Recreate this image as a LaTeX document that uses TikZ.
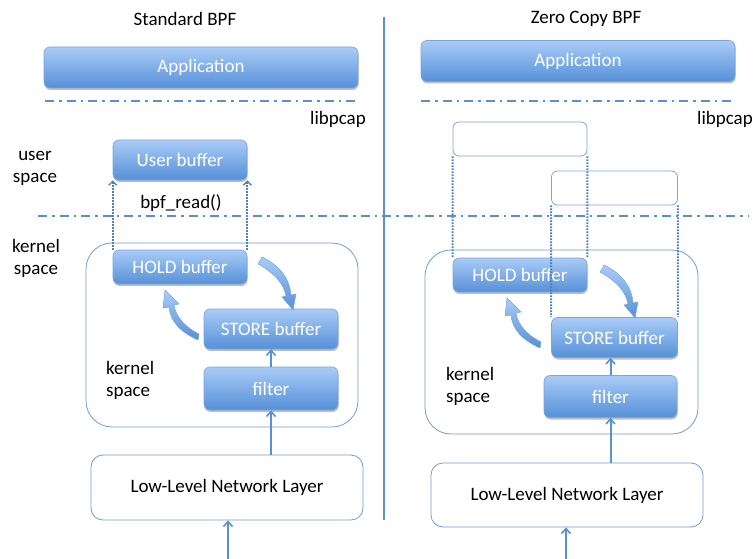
\documentclass[tikz,border=0pt]{standalone}
\usepackage{fontspec}
\setmainfont{Carlito}
\usetikzlibrary{arrows.meta,shadows}

\definecolor{bxtop}{HTML}{A9CCF7}
\definecolor{bxbot}{HTML}{5690D8}
\definecolor{bxline}{HTML}{7AA6DC}
\definecolor{ln}{HTML}{5B8FCF}
\definecolor{frame}{HTML}{6E9DD3}

\tikzset{
  txt/.style={font=\fontsize{19}{22}\selectfont, text=black, inner sep=0pt},
  blk/.style={rectangle, rounded corners=6pt, draw=bxline, line width=0.6pt,
    top color=bxtop, bottom color=bxbot, text=white,
    font=\fontsize{19}{22}\selectfont,
    drop shadow={shadow xshift=0.6pt, shadow yshift=-2pt, opacity=0.25, fill=black}},
  emptybox/.style={rectangle, rounded corners=6pt, draw=bxline, line width=0.8pt, fill=white},
  kbox/.style={rectangle, rounded corners=26pt, draw=frame, line width=0.8pt},
  netbox/.style={rectangle, rounded corners=12pt, draw=frame, line width=0.8pt, fill=white,
    font=\fontsize{19}{22}\selectfont},
  dashdot/.style={draw=ln, line width=2.5pt, dash pattern=on 9pt off 5pt on 2.5pt off 5pt},
  dots/.style={draw=ln!90!black, line width=2pt, dash pattern=on 1.6pt off 1.4pt},
  arr/.style={draw=ln, line width=2pt, -{Straight Barb[length=5pt,width=9pt,line width=1.6pt]}},
  dotarr/.style={dots, -{Straight Barb[length=4pt,width=8pt,line width=1.4pt]}},
  curv/.style={top color=bxtop, bottom color=bxbot, draw=bxline, line width=0.5pt},
}

\begin{document}
\begin{tikzpicture}[x=1pt,y=-1pt]
  \useasboundingbox (0,0) rectangle (755,559);

  % divider between the two halves
  \draw[ln, line width=2pt] (384,17) -- (384,520);

  % ---------- Standard BPF ----------
  \node[txt] (t1) at (185,19) {Standard BPF};
  \node[blk, minimum width=314pt, minimum height=41pt] (app1) at (201,67.5) {Application};
  \draw[dashdot] (45,101) -- (358,101);
  \node[txt, anchor=east] (lib1) at (366,119) {libpcap};

  \node[txt, align=center] (us) at (35,168) {user\\space};
  \node[txt, align=center] (ks) at (36,258) {kernel\\space};

  \node[kbox, minimum width=272pt, minimum height=184pt] (kern1) at (222,335) {};
  \node[blk, minimum width=134pt, minimum height=40pt] (ubuf) at (180,160) {User buffer};
  \node[txt] (rd) at (181,203) {bpf\_read()};
  \node[blk, minimum width=134pt, minimum height=34pt] (hold1) at (180,267) {HOLD buffer};
  \node[blk, minimum width=134pt, minimum height=40pt] (store1) at (271,329) {STORE buffer};
  \node[blk, minimum width=134pt, minimum height=43pt] (filt1) at (271,388.5) {filter};
  \node[txt, align=left, anchor=west] (ks1) at (106,380) {kernel\\space};
  \node[netbox, minimum width=272pt, minimum height=65pt] (net1) at (227,487.5) {Low-Level Network Layer};
  \coordinate (in1) at (228,559);

  \draw[dotarr] (hold1.north west) -- (ubuf.south west);
  \draw[dotarr] (hold1.north east) -- (ubuf.south east);

  \draw[arr] (filt1.south |- net1.north) -- (filt1.south);
  \draw[arr] (filt1.north) -- (store1.south);
  \draw[arr] (in1) -- (in1 |- net1.south);

  % swap arrows between HOLD and STORE
  \path[curv] (262,257) .. controls (281,266) and (290,280) .. (291,295)
      -- (296,294) -- (293,310) -- (282,297) -- (286,296)
      .. controls (284,285) and (276,274) .. (258,264) -- cycle;
  \path[curv] (198,340) .. controls (180,332) and (170,321) .. (169,307)
      -- (163,308) -- (165,290) -- (179,304) -- (174,305)
      .. controls (176,317) and (185,327) .. (199,334) -- cycle;

  % ---------- Zero Copy BPF ----------
  \node[txt] (t2) at (586,19) {Zero Copy BPF};
  \node[blk, minimum width=314pt, minimum height=41pt] (app2) at (578,61) {Application};
  \draw[dashdot] (421,101) -- (735,101);
  \node[txt, anchor=east] (lib2) at (753,119) {libpcap};

  \node[kbox, minimum width=273pt, minimum height=184pt] (kern2) at (561.5,342) {};
  \node[emptybox, minimum width=134pt, minimum height=34pt] (zb1) at (520,139) {};
  \node[emptybox, minimum width=126pt, minimum height=34pt] (zb2) at (614.5,188) {};
  \node[blk, minimum width=134pt, minimum height=34pt] (hold2) at (520,275) {HOLD buffer};
  \node[blk, minimum width=126pt, minimum height=40pt] (store2) at (614.5,337.5) {STORE buffer};
  \node[blk, minimum width=133pt, minimum height=42pt] (filt2) at (610.5,396.5) {filter};
  \node[txt, align=left, anchor=west] (ks2) at (446,386) {kernel\\space};
  \node[netbox, minimum width=272pt, minimum height=64pt] (net2) at (567,495) {Low-Level Network Layer};
  \coordinate (in2) at (566,559);

  \draw[dots] (zb1.south west) -- (hold2.north west);
  \draw[dots] (zb1.south east) -- (hold2.north east);
  \draw[dots] (zb2.south west) -- (store2.north west);
  \draw[dots] (zb2.south east) -- (store2.north east);

  \draw[arr] (filt2.south |- net2.north) -- (filt2.south);
  \draw[arr] (filt2.north) -- (filt2.north |- store2.south);
  \draw[arr] (in2) -- (in2 |- net2.south);

  \begin{scope}[shift={(342,8)}]
    \path[curv] (262,257) .. controls (281,266) and (290,280) .. (291,295)
        -- (296,294) -- (293,310) -- (282,297) -- (286,296)
        .. controls (284,285) and (276,274) .. (258,264) -- cycle;
    \path[curv] (198,340) .. controls (180,332) and (170,321) .. (169,307)
        -- (163,308) -- (165,290) -- (179,304) -- (174,305)
        .. controls (176,317) and (185,327) .. (199,334) -- cycle;
  \end{scope}

  % user / kernel boundary
  \draw[dashdot] (38,216) -- (748,216);
\end{tikzpicture}
\end{document}
